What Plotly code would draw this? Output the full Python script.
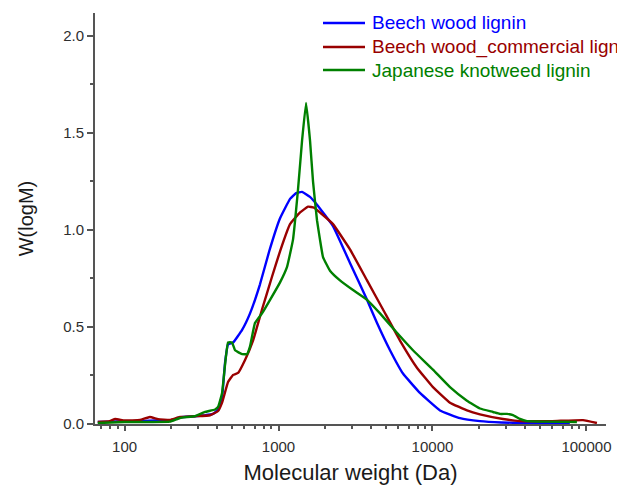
import plotly.graph_objects as go

# ---- data ----
beech_M = [67, 80, 100, 130, 160, 200, 229, 287, 333, 376, 405, 430, 450, 470, 507, 580, 653, 758, 870,
           1023, 1188, 1300, 1422, 1600, 1778, 2259, 2911, 3757, 4363, 5297, 6433, 8291, 11190, 15090,
           20330, 28000, 40000, 60000, 78000]
beech_W = [0.010, 0.012, 0.015, 0.015, 0.018, 0.018, 0.035, 0.040, 0.045, 0.052, 0.075, 0.14, 0.32, 0.41,
           0.42, 0.485, 0.57, 0.72, 0.89, 1.06, 1.16, 1.19, 1.196, 1.17, 1.13, 1.02, 0.83, 0.64, 0.52,
           0.38, 0.26, 0.16, 0.07, 0.03, 0.015, 0.008, 0.005, 0.005, 0.003]

comm_M = [67, 80, 87, 100, 126, 146, 165, 197, 229, 287, 359, 405, 430, 470, 507, 546, 606, 683, 781, 908,
          1023, 1188, 1380, 1555, 1700, 1860, 2259, 2911, 3757, 4772, 6150, 7925, 10070, 12990, 16750,
          20330, 28700, 37000, 60000, 95000, 117000]
comm_W = [0.010, 0.015, 0.026, 0.018, 0.021, 0.036, 0.025, 0.021, 0.036, 0.040, 0.045, 0.067, 0.11, 0.216,
          0.253, 0.263, 0.33, 0.43, 0.59, 0.76, 0.89, 1.03, 1.09, 1.12, 1.115, 1.09, 1.03, 0.90, 0.74,
          0.59, 0.43, 0.29, 0.19, 0.11, 0.07, 0.05, 0.026, 0.015, 0.015, 0.02, 0.005]

knot_M = [67, 100, 150, 197, 229, 287, 333, 387, 405, 430, 450, 470, 499, 522, 580, 624, 653, 703, 781, 881,
          1023, 1136, 1242, 1339, 1422, 1509, 1602, 1675, 1778, 1859, 1945, 2159, 2507, 3047, 3757, 4563,
          5877, 7468, 10070, 12990, 16750, 20330, 24710, 27420, 30480, 33350, 37000, 41080, 55000, 86700]
knot_W = [0.005, 0.010, 0.010, 0.012, 0.031, 0.041, 0.062, 0.075, 0.088, 0.16, 0.31, 0.42, 0.42, 0.38,
          0.36, 0.36, 0.40, 0.52, 0.57, 0.64, 0.73, 0.81, 0.95, 1.21, 1.46, 1.655, 1.46, 1.25, 1.05, 0.95,
          0.86, 0.79, 0.74, 0.69, 0.64, 0.57, 0.47, 0.38, 0.28, 0.19, 0.12, 0.08, 0.062, 0.052, 0.052,
          0.046, 0.026, 0.015, 0.012, 0.010]

series_names = ["Beech wood lignin", "Beech wood_commercial lignin", "Japanese knotweed lignin"]
series_colors = ["#0000FF", "#990000", "#008000"]
x_tickvals = [100, 1000, 10000, 100000]
x_ticktext = ["100", "1000", "10000", "100000"]

# ---- layout geometry ----
W, H = 617, 497
ML, MR, MT, MB = 95, 11, 13, 73
PW, PH = W - ML - MR, H - MT - MB


def px_x(px):
    return (px - ML) / PW


def px_y(py):
    return (H - MB - py) / PH


FONT = "Liberation Sans, Arial, sans-serif"

fig = go.Figure()
for M, Wv, name, col in zip([beech_M, comm_M, knot_M], [beech_W, comm_W, knot_W], series_names, series_colors):
    fig.add_trace(go.Scatter(x=M, y=Wv, mode="lines", name=name, showlegend=False,
                             line=dict(color=col, width=2.4, shape="spline", smoothing=0.3)))

# manual legend (text runs past the right edge as in the reference)
legend_rows = [23, 47, 70]
for name, col, ry in zip(series_names, series_colors, legend_rows):
    fig.add_shape(type="line", xref="paper", yref="paper", x0=px_x(323), x1=px_x(365),
                  y0=px_y(ry), y1=px_y(ry), line=dict(color=col, width=2.4))
    fig.add_annotation(xref="paper", yref="paper", x=px_x(370), y=px_y(ry), xanchor="left",
                       yanchor="middle", text=name, showarrow=False,
                       font=dict(family=FONT, size=19, color=col))

axis_col = "#555555"
fig.update_layout(
    width=W, height=H,
    margin=dict(l=ML, r=MR, t=MT, b=MB, autoexpand=False),
    plot_bgcolor="white", paper_bgcolor="white",
    font=dict(family=FONT, color="#333333"),
    showlegend=False,
    xaxis=dict(type="log", range=[1.808, 5.127], tickvals=x_tickvals, ticktext=x_ticktext,
               showgrid=False, zeroline=False, showline=True, linecolor=axis_col, linewidth=2,
               ticks="outside", ticklen=5, tickwidth=1.5, tickcolor=axis_col, ticklabelstandoff=3,
               tickfont=dict(size=15, color="#2e2e2e"),
               minor=dict(ticks="outside", ticklen=3, tickwidth=1.5, tickcolor=axis_col, dtick="D1",
                          showgrid=False),
               title=dict(text="Molecular weight (Da)", font=dict(size=22, color="#1a1a1a"), standoff=11)),
    yaxis=dict(range=[0, 2.118], dtick=0.5, tickformat=".1f",
               showgrid=False, zeroline=False, showline=True, linecolor=axis_col, linewidth=2,
               ticks="outside", ticklen=6, tickwidth=1.5, tickcolor=axis_col,
               tickfont=dict(size=15, color="#2e2e2e"),
               minor=dict(ticks="outside", ticklen=3, tickwidth=1.5, tickcolor=axis_col, dtick=0.25,
                          showgrid=False),
               title=dict(text="W(logM)", font=dict(size=20, color="#1a1a1a"), standoff=24)),
)

fig.write_html("out.html", config={"displayModeBar": False},
               post_script="document.body.style.margin='0';document.body.style.overflow='hidden';")
